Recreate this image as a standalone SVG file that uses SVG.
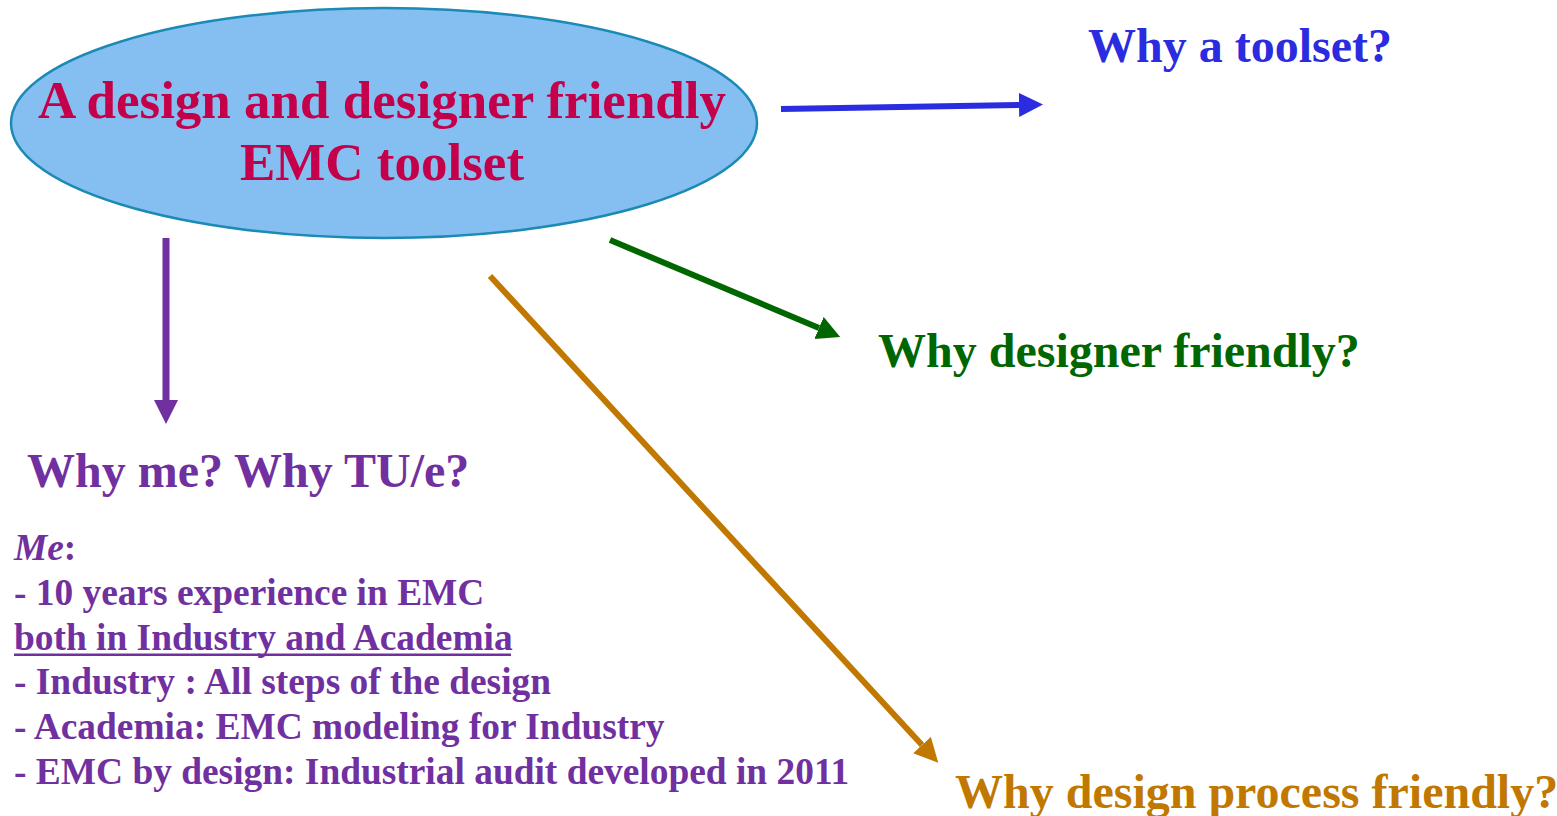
<svg xmlns="http://www.w3.org/2000/svg" width="1557" height="816" viewBox="0 0 1557 816">
<style>
text{font-family:"Liberation Serif","Times New Roman",serif;font-weight:bold}
.title{font-size:53px;fill:#C4004A}
.h{font-size:48px}
.body{font-size:37.4px;fill:#7030A0}
.conn{fill:none}
</style>
<defs>
<marker id="mBlue" markerUnits="userSpaceOnUse" markerWidth="26" markerHeight="26" refX="0" refY="12" orient="auto"><path d="M0,0 L24,12 L0,24 z" fill="#2B2BE0"/></marker>
<marker id="mGreen" markerUnits="userSpaceOnUse" markerWidth="26" markerHeight="26" refX="0" refY="12" orient="auto"><path d="M0,0 L23,12 L0,24 z" fill="#006600"/></marker>
<marker id="mPurple" markerUnits="userSpaceOnUse" markerWidth="26" markerHeight="26" refX="0" refY="12" orient="auto"><path d="M0,0 L24,12 L0,24 z" fill="#7030A0"/></marker>
<marker id="mOrange" markerUnits="userSpaceOnUse" markerWidth="26" markerHeight="26" refX="0" refY="12" orient="auto"><path d="M0,0 L24,12 L0,24 z" fill="#C07800"/></marker>
</defs>
<rect width="1557" height="816" fill="#FFFFFF"/>
<g id="center">
<ellipse cx="384" cy="123" rx="373" ry="115" fill="#85BFF1" stroke="#1B8AB5" stroke-width="2.5"/>
<text class="title" x="382" y="118" text-anchor="middle">A design and designer friendly</text>
<text class="title" x="382" y="180" text-anchor="middle">EMC toolset</text>
</g>
<g id="toolset">
<text class="h" x="1088" y="62" fill="#2B2BE0">Why a toolset?</text>
</g>
<g id="designer">
<text class="h" x="878" y="367" fill="#006600">Why designer friendly?</text>
</g>
<g id="process">
<text class="h" x="955" y="808" fill="#C07800">Why design process friendly?</text>
</g>
<g id="me">
<text class="h" x="27" y="487" fill="#7030A0">Why me? Why TU/e?</text>
<text class="body" x="14" y="560"><tspan font-style="italic">Me</tspan>:</text>
<text class="body" x="14" y="605">- 10 years experience in EMC</text>
<text class="body" x="14" y="650">both in Industry and Academia</text>
<rect x="14" y="653.5" width="497" height="2.5" fill="#7030A0"/>
<text class="body" x="14" y="694">- Industry : All steps of the design</text>
<text class="body" x="14" y="739">- Academia: EMC modeling for Industry</text>
<text class="body" x="14" y="784">- EMC by design: Industrial audit developed in 2011</text>
</g>
<g id="connectors" class="conn">
<line x1="781" y1="109" x2="1019" y2="105" stroke="#2B2BE0" stroke-width="6" marker-end="url(#mBlue)"/>
<line x1="610" y1="240" x2="819" y2="328" stroke="#006600" stroke-width="6" marker-end="url(#mGreen)"/>
<line x1="166" y1="238" x2="166" y2="400" stroke="#7030A0" stroke-width="7" marker-end="url(#mPurple)"/>
<line x1="490" y1="276" x2="922" y2="745" stroke="#C07800" stroke-width="6" marker-end="url(#mOrange)"/>
</g>
</svg>
